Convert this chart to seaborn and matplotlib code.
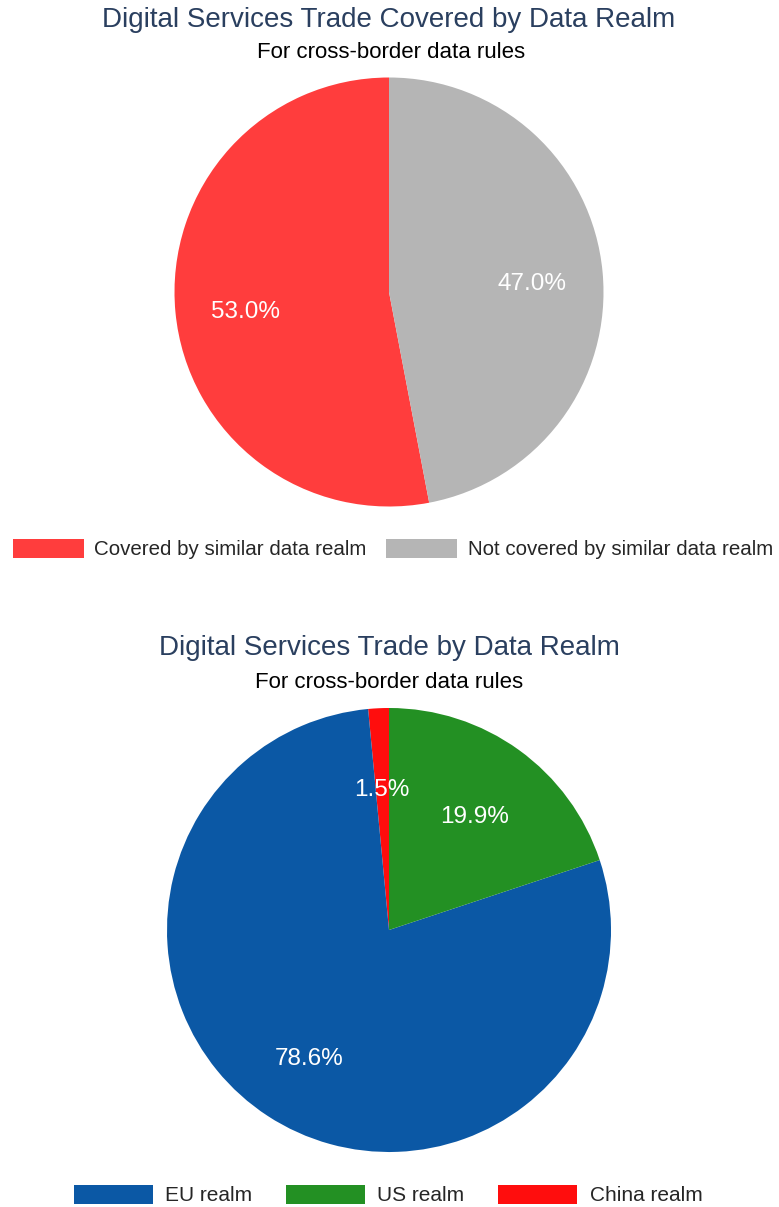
import matplotlib
matplotlib.use("Agg")
import matplotlib.pyplot as plt
import matplotlib.transforms as mtransforms
import seaborn as sns

# Data
coverage_labels = ["Covered by similar data realm", "Not covered by similar data realm"]
coverage_values = [53.0, 47.0]
coverage_colors = ["#FF3D3D", "#B5B5B5"]

realm_labels = ["EU realm", "US realm", "China realm"]
realm_values = [78.6, 19.9, 1.5]
realm_colors = ["#0B58A5", "#239023", "#FF0D0D"]
# drawing order around the pie (counter-clockwise from 12 o'clock)
realm_draw_order = [2, 0, 1]

title_top = "Digital Services Trade Covered by Data Realm"
title_bottom = "Digital Services Trade by Data Realm"
subtitle = "For cross-border data rules"

sns.set_theme(style="white")
plt.rcParams["font.family"] = ["Liberation Sans", "DejaVu Sans"]

W, H = 779, 1207
fig = plt.figure(figsize=(W / 100, H / 100), dpi=100)
fig.patch.set_facecolor("white")


def pie_axes(cx, cy, r):
    ax = fig.add_axes([(cx - r) / W, (H - cy - r) / H, 2 * r / W, 2 * r / H])
    ax.set_xlim(-1, 1)
    ax.set_ylim(-1, 1)
    ax.set_aspect("equal")
    ax.axis("off")
    return ax


def nudge_labels(texts, dy=-6):
    # shift percentage labels so the digits sit visually centred
    for t in texts:
        t.set_transform(mtransforms.offset_copy(t.get_transform(), fig=fig,
                                                y=dy, units="dots"))


# Top pie
ax1 = pie_axes(389, 292, 214.5)
wedges1, _, autotexts1 = ax1.pie(
    coverage_values, colors=coverage_colors, startangle=90, counterclock=True,
    autopct="%.1f%%", pctdistance=0.67, radius=1.0,
    textprops=dict(color="white", fontsize=17.5),
    wedgeprops=dict(linewidth=0),
)
nudge_labels(autotexts1)
ax1.set_xlim(-1, 1)
ax1.set_ylim(-1, 1)

# Bottom pie
ax2 = pie_axes(389, 930, 222)
vals = [realm_values[i] for i in realm_draw_order]
cols = [realm_colors[i] for i in realm_draw_order]
wedges2, _, autotexts2 = ax2.pie(
    vals, colors=cols, startangle=90, counterclock=True,
    autopct="%.1f%%", pctdistance=0.66, radius=1.0,
    textprops=dict(color="white", fontsize=17.5),
    wedgeprops=dict(linewidth=0),
)
nudge_labels(autotexts2)
ax2.set_xlim(-1, 1)
ax2.set_ylim(-1, 1)

# Titles
title_color = "#2A3F5F"
fig.text(389 / W, 1 - 20 / H, title_top, ha="center", va="center",
         fontsize=20, color=title_color)
fig.text(391 / W, 1 - 53 / H, subtitle, ha="center", va="center",
         fontsize=16, color="black")
fig.text(389 / W, 1 - 648 / H, title_bottom, ha="center", va="center",
         fontsize=20, color=title_color)
fig.text(389 / W, 1 - 682 / H, subtitle, ha="center", va="center",
         fontsize=16, color="black")

# Legends
leg1 = fig.legend(wedges1, coverage_labels, loc="center",
                  bbox_to_anchor=(393 / W, 1 - 549 / H), ncol=2, frameon=False,
                  fontsize=14.8, handlelength=3.45, handleheight=1.05,
                  handletextpad=0.52, columnspacing=0.95, borderaxespad=0,
                  borderpad=0)

realm_handles = [wedges2[realm_draw_order.index(i)] for i in range(len(realm_labels))]
leg2 = fig.legend(realm_handles, realm_labels, loc="center",
                  bbox_to_anchor=(388 / W, 1 - 1195 / H), ncol=3, frameon=False,
                  fontsize=15, handlelength=3.8, handleheight=1.05,
                  handletextpad=0.6, columnspacing=1.6, borderaxespad=0,
                  borderpad=0)

fig.savefig("out.png", dpi=100, facecolor="white")
